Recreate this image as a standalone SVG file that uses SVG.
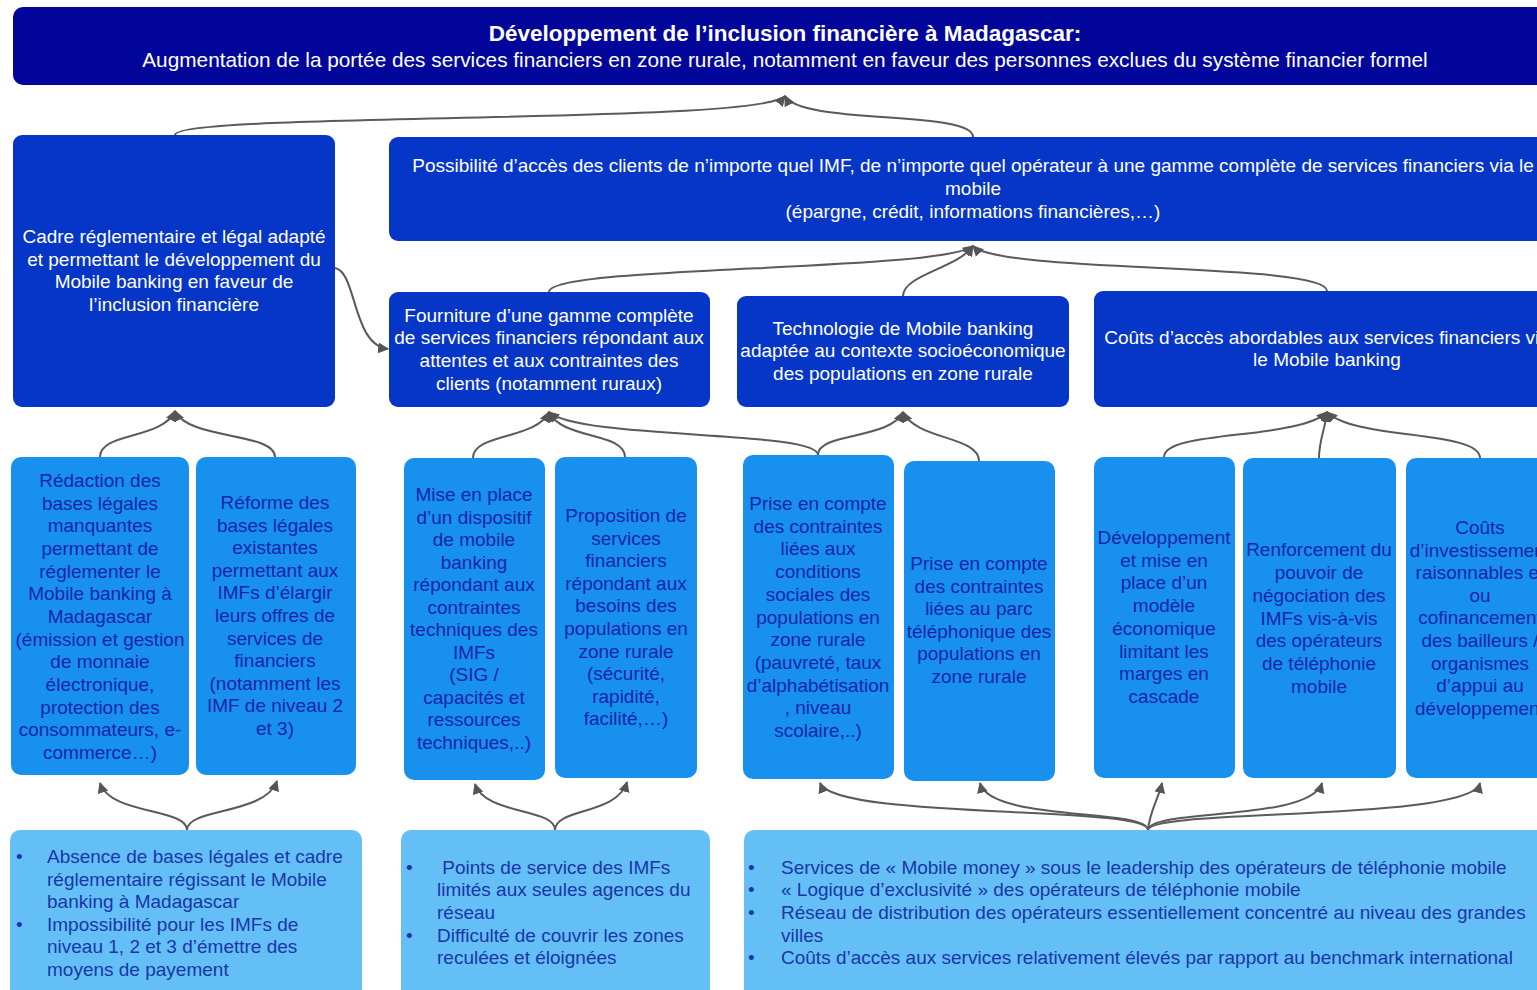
<svg xmlns="http://www.w3.org/2000/svg" width="1537" height="990" viewBox="0 0 1537 990">
  <style>
    text { font-family: "Liberation Sans", Arial, sans-serif; }
    .goal { fill: #02069A; }
    .mid { fill: #0636C8; }
    .leaf { fill: #1790EE; }
    .cause { fill: #63BFF6; }
    .wt { fill: #FFFFFF; font-size: 19px; text-anchor: middle; dominant-baseline: central; }
    .lt { fill: #1626A6; font-size: 19px; text-anchor: middle; dominant-baseline: central; }
    .bt { fill: #1B36A8; font-size: 19px; dominant-baseline: central; }
    .link { fill: none; stroke: #5A5A5A; stroke-width: 2; }
  </style>
  <defs>
    <marker id="head" viewBox="0 0 10 10" refX="9" refY="5" markerWidth="11" markerHeight="11" markerUnits="userSpaceOnUse" orient="auto">
      <path d="M0,0 L10,5 L0,10 z" fill="#555555"/>
    </marker>
  </defs>
  <rect width="1537" height="990" fill="#FFFFFF"/>

  <!-- connectors -->
  <g id="connectors">
    <!-- level 2 to goal -->
    <path class="link" marker-end="url(#head)" d="M175 135 C175 112, 760 125, 785 96"/>
    <path class="link" marker-end="url(#head)" d="M973 137 C973 110, 800 125, 785 96"/>
    <!-- level 3 to access box -->
    <path class="link" marker-end="url(#head)" d="M549 292 C549 265, 940 272, 973 246"/>
    <path class="link" marker-end="url(#head)" d="M903 296 C903 275, 958 268, 973 246"/>
    <path class="link" marker-end="url(#head)" d="M1327 291 C1327 262, 1000 274, 973 246"/>
    <!-- legal framework feeds service range -->
    <path class="link" marker-end="url(#head)" d="M335 268 C357 272, 352 345, 388 349"/>
    <!-- level 4 to level 3 -->
    <path class="link" marker-end="url(#head)" d="M100 457 C100 432, 162 440, 175 411"/>
    <path class="link" marker-end="url(#head)" d="M275 457 C275 432, 188 440, 175 411"/>
    <path class="link" marker-end="url(#head)" d="M473 458 C473 433, 536 440, 549 412"/>
    <path class="link" marker-end="url(#head)" d="M625 457 C625 432, 562 440, 549 412"/>
    <path class="link" marker-end="url(#head)" d="M818 455 C818 430, 580 440, 549 412"/>
    <path class="link" marker-end="url(#head)" d="M818 455 C818 432, 890 440, 903 412"/>
    <path class="link" marker-end="url(#head)" d="M979 461 C979 436, 916 440, 903 412"/>
    <path class="link" marker-end="url(#head)" d="M1164 457 C1164 430, 1300 440, 1327 412"/>
    <path class="link" marker-end="url(#head)" d="M1319 458 C1319 440, 1325 430, 1327 412"/>
    <path class="link" marker-end="url(#head)" d="M1480 458 C1480 430, 1354 440, 1327 412"/>
    <!-- causes to level 4 -->
    <path class="link" marker-end="url(#head)" d="M187 830 C187 808, 110 815, 100 783"/>
    <path class="link" marker-end="url(#head)" d="M187 830 C187 808, 265 815, 277 781"/>
    <path class="link" marker-end="url(#head)" d="M555 830 C555 808, 485 815, 475 784"/>
    <path class="link" marker-end="url(#head)" d="M555 830 C555 808, 617 815, 627 782"/>
    <path class="link" marker-end="url(#head)" d="M1148 830 C1148 805, 835 820, 820 783"/>
    <path class="link" marker-end="url(#head)" d="M1148 830 C1148 808, 990 822, 980 783"/>
    <path class="link" marker-end="url(#head)" d="M1148 830 C1150 810, 1158 800, 1162 783"/>
    <path class="link" marker-end="url(#head)" d="M1148 830 C1150 808, 1310 822, 1322 783"/>
    <path class="link" marker-end="url(#head)" d="M1148 830 C1150 808, 1470 822, 1480 783"/>
  </g>

  <g id="goal">
    <rect class="goal" x="13" y="7" width="1540" height="78" rx="10"/>
    <text x="785" y="33" fill="#FFFFFF" font-size="22.5" font-weight="bold" text-anchor="middle" dominant-baseline="central">Développement de l’inclusion financière à Madagascar:</text>
    <text x="785" y="59" fill="#FFFFFF" font-size="20.8" text-anchor="middle" dominant-baseline="central">Augmentation de la portée des services financiers en zone rurale, notamment en faveur des personnes exclues du système financier formel</text>
  </g>

  <g id="cadre">
    <rect class="mid" x="13" y="135" width="322" height="272" rx="9"/>
    <text class="wt" x="174"><tspan x="174" y="236">Cadre réglementaire et légal adapté</tspan><tspan x="174" y="259">et permettant le développement du</tspan><tspan x="174" y="281">Mobile banking en faveur de</tspan><tspan x="174" y="304">l’inclusion financière</tspan></text>
  </g>

  <g id="acces">
    <rect class="mid" x="389" y="137" width="1170" height="104" rx="9"/>
    <text class="wt" x="973"><tspan x="973" y="165">Possibilité d’accès des clients de n’importe quel IMF, de n’importe quel opérateur à une gamme complète de services financiers via le</tspan><tspan x="973" y="188">mobile</tspan><tspan x="973" y="211">(épargne, crédit, informations financières,…)</tspan></text>
  </g>

  <g id="fourniture">
    <rect class="mid" x="389" y="292" width="321" height="115" rx="9"/>
    <text class="wt" x="549"><tspan x="549" y="315">Fourniture d’une gamme complète</tspan><tspan x="549" y="337">de services financiers répondant aux</tspan><tspan x="549" y="360">attentes et aux contraintes des</tspan><tspan x="549" y="383">clients (notamment ruraux)</tspan></text>
  </g>

  <g id="technologie">
    <rect class="mid" x="737" y="296" width="332" height="111" rx="9"/>
    <text class="wt" x="903"><tspan x="903" y="328">Technologie de Mobile banking</tspan><tspan x="903" y="350">adaptée au contexte socioéconomique</tspan><tspan x="903" y="373">des populations en zone rurale</tspan></text>
  </g>

  <g id="couts">
    <rect class="mid" x="1094" y="291" width="470" height="116" rx="9"/>
    <text class="wt" x="1327"><tspan x="1327" y="337">Coûts d’accès abordables aux services financiers via</tspan><tspan x="1327" y="359">le Mobile banking</tspan></text>
  </g>

  <g id="redaction">
    <rect class="leaf" x="11" y="457" width="178" height="318" rx="10"/>
    <text class="lt"><tspan x="100" y="480">Rédaction des</tspan><tspan x="100" y="502.7">bases légales</tspan><tspan x="100" y="525.3">manquantes</tspan><tspan x="100" y="548">permettant de</tspan><tspan x="100" y="570.7">réglementer  le</tspan><tspan x="100" y="593.3">Mobile banking à</tspan><tspan x="100" y="616">Madagascar</tspan><tspan x="100" y="638.7">(émission et gestion</tspan><tspan x="100" y="661.3">de monnaie</tspan><tspan x="100" y="684">électronique,</tspan><tspan x="100" y="706.7">protection des</tspan><tspan x="100" y="729.3">consommateurs, e-</tspan><tspan x="100" y="752">commerce…)</tspan></text>
  </g>

  <g id="reforme">
    <rect class="leaf" x="196" y="457" width="160" height="318" rx="10"/>
    <text class="lt"><tspan x="275" y="502">Réforme des</tspan><tspan x="275" y="524.6">bases légales</tspan><tspan x="275" y="547.2">existantes</tspan><tspan x="275" y="569.8">permettant aux</tspan><tspan x="275" y="592.4">IMFs d’élargir</tspan><tspan x="275" y="615">leurs offres de</tspan><tspan x="275" y="637.6">services de</tspan><tspan x="275" y="660.2">financiers</tspan><tspan x="275" y="682.8">(notamment les</tspan><tspan x="275" y="705.4">IMF de niveau 2</tspan><tspan x="275" y="728">et 3)</tspan></text>
  </g>

  <g id="dispositif">
    <rect class="leaf" x="404" y="458" width="141" height="322" rx="10"/>
    <text class="lt"><tspan x="474" y="494">Mise en place</tspan><tspan x="474" y="516.5">d’un dispositif</tspan><tspan x="474" y="539">de mobile</tspan><tspan x="474" y="561.5">banking</tspan><tspan x="474" y="584">répondant aux</tspan><tspan x="474" y="606.5">contraintes</tspan><tspan x="474" y="629">techniques des</tspan><tspan x="474" y="651.5">IMFs</tspan><tspan x="474" y="674">(SIG /</tspan><tspan x="474" y="696.5">capacités et</tspan><tspan x="474" y="719">ressources</tspan><tspan x="474" y="741.5">techniques,..)</tspan></text>
  </g>

  <g id="proposition">
    <rect class="leaf" x="555" y="457" width="142" height="321" rx="10"/>
    <text class="lt"><tspan x="626" y="515">Proposition de</tspan><tspan x="626" y="537.6">services</tspan><tspan x="626" y="560.2">financiers</tspan><tspan x="626" y="582.8">répondant aux</tspan><tspan x="626" y="605.4">besoins des</tspan><tspan x="626" y="628">populations en</tspan><tspan x="626" y="650.6">zone rurale</tspan><tspan x="626" y="673.2">(sécurité,</tspan><tspan x="626" y="695.8">rapidité,</tspan><tspan x="626" y="718.4">facilité,…)</tspan></text>
  </g>

  <g id="social">
    <rect class="leaf" x="743" y="455" width="151" height="324" rx="10"/>
    <text class="lt"><tspan x="818" y="503">Prise en compte</tspan><tspan x="818" y="525.7">des contraintes</tspan><tspan x="818" y="548.4">liées aux</tspan><tspan x="818" y="571.1">conditions</tspan><tspan x="818" y="593.8">sociales des</tspan><tspan x="818" y="616.5">populations en</tspan><tspan x="818" y="639.2">zone rurale</tspan><tspan x="818" y="661.9">(pauvreté, taux</tspan><tspan x="818" y="684.6">d’alphabétisation</tspan><tspan x="818" y="707.3">, niveau</tspan><tspan x="818" y="730">scolaire,..)</tspan></text>
  </g>

  <g id="parc">
    <rect class="leaf" x="904" y="461" width="151" height="320" rx="10"/>
    <text class="lt"><tspan x="979" y="563">Prise en compte</tspan><tspan x="979" y="585.6">des contraintes</tspan><tspan x="979" y="608.2">liées au parc</tspan><tspan x="979" y="630.8">téléphonique des</tspan><tspan x="979" y="653.4">populations en</tspan><tspan x="979" y="676">zone rurale</tspan></text>
  </g>

  <g id="modele">
    <rect class="leaf" x="1094" y="457" width="141" height="321" rx="10"/>
    <text class="lt"><tspan x="1164" y="537">Développement</tspan><tspan x="1164" y="559.7">et mise en</tspan><tspan x="1164" y="582.4">place d’un</tspan><tspan x="1164" y="605.1">modèle</tspan><tspan x="1164" y="627.8">économique</tspan><tspan x="1164" y="650.5">limitant les</tspan><tspan x="1164" y="673.2">marges en</tspan><tspan x="1164" y="696">cascade</tspan></text>
  </g>

  <g id="negociation">
    <rect class="leaf" x="1243" y="458" width="153" height="320" rx="10"/>
    <text class="lt"><tspan x="1319" y="549">Renforcement du</tspan><tspan x="1319" y="571.8">pouvoir de</tspan><tspan x="1319" y="594.7">négociation des</tspan><tspan x="1319" y="617.5">IMFs vis-à-vis</tspan><tspan x="1319" y="640.3">des opérateurs</tspan><tspan x="1319" y="663.2">de téléphonie</tspan><tspan x="1319" y="686">mobile</tspan></text>
  </g>

  <g id="investissement">
    <rect class="leaf" x="1406" y="458" width="160" height="320" rx="10"/>
    <text class="lt"><tspan x="1480" y="527">Coûts</tspan><tspan x="1480" y="549.6">d’investissement</tspan><tspan x="1480" y="572.2">raisonnables et</tspan><tspan x="1480" y="594.8">ou</tspan><tspan x="1480" y="617.4">cofinancement</tspan><tspan x="1480" y="640">des bailleurs /</tspan><tspan x="1480" y="662.6">organismes</tspan><tspan x="1480" y="685.2">d’appui au</tspan><tspan x="1480" y="708">développement</tspan></text>
  </g>

  <g id="cause-legal">
    <rect class="cause" x="10" y="830" width="352" height="175" rx="10"/>
    <text class="bt"><tspan x="16" y="856">•</tspan><tspan x="47" y="856">Absence de bases légales et cadre</tspan><tspan x="47" y="879">réglementaire régissant le Mobile</tspan><tspan x="47" y="901">banking à Madagascar</tspan><tspan x="16" y="924">•</tspan><tspan x="47" y="924">Impossibilité pour les IMFs de</tspan><tspan x="47" y="946">niveau 1, 2 et 3 d’émettre des</tspan><tspan x="47" y="969">moyens de payement</tspan></text>
  </g>

  <g id="cause-reseau">
    <rect class="cause" x="401" y="830" width="309" height="175" rx="10"/>
    <text class="bt"><tspan x="406" y="867">•</tspan><tspan x="437" y="867"> Points de service des IMFs</tspan><tspan x="437" y="889">limités aux seules agences du</tspan><tspan x="437" y="912">réseau</tspan><tspan x="406" y="935">•</tspan><tspan x="437" y="935">Difficulté de couvrir les zones</tspan><tspan x="437" y="957">reculées et éloignées</tspan></text>
  </g>

  <g id="cause-operateurs">
    <rect class="cause" x="744" y="830" width="820" height="175" rx="10"/>
    <text class="bt"><tspan x="748" y="867">•</tspan><tspan x="781" y="867">Services de « Mobile money » sous le leadership des opérateurs de téléphonie mobile</tspan><tspan x="748" y="889">•</tspan><tspan x="781" y="889">« Logique d’exclusivité » des opérateurs de téléphonie mobile</tspan><tspan x="748" y="912">•</tspan><tspan x="781" y="912">Réseau de distribution des opérateurs essentiellement concentré au niveau des grandes</tspan><tspan x="781" y="935">villes</tspan><tspan x="748" y="957">•</tspan><tspan x="781" y="957">Coûts d’accès aux services relativement élevés par rapport au benchmark international</tspan></text>
  </g>
</svg>
